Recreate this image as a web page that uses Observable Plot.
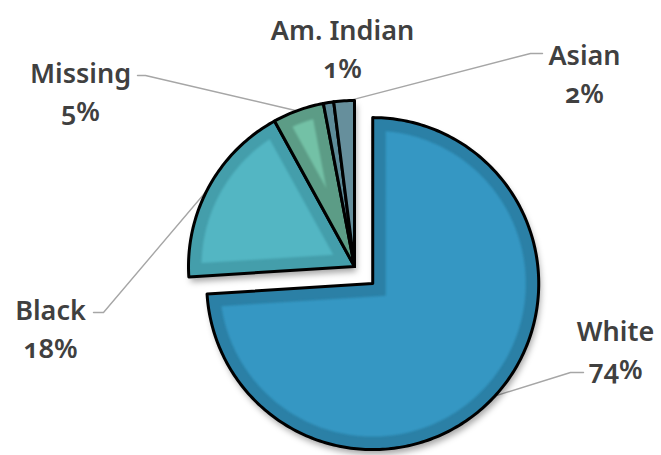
<!DOCTYPE html>
<html>
<head>
<meta charset="utf-8">
<script src="https://cdn.jsdelivr.net/npm/d3@7"></script>
<script src="https://cdn.jsdelivr.net/npm/@observablehq/plot@0.6"></script>
<style>
  html, body { margin: 0; padding: 0; background: #ffffff; }
  #chart { width: 661px; height: 455px; }
</style>
</head>
<body>
<div id="chart"></div>
<script>
// ---- data ----
const categories = ["White", "Black", "Missing", "Am. Indian", "Asian"];
const values = [74, 18, 5, 1, 2];
const pctLabels = ["74%", "18%", "5%", "1%", "2%"];

// ---- styles ----
const outerColors = ["#2B80A6", "#449EAB", "#5C9C86", "#5D8B98", "#668F9C"];
const innerColors = ["#3497C3", "#52B6C3", "#73C1A6", "#5D8B98", "#6C96A3"];

// ---- layout ----
const W = 661, H = 455;
const cx = 354, cy = 266, R = 166, band = 13;
const explode = {"White": 25};
const labelAt = {           // [center x, cap top y]
  "White": [615, 313],
  "Black": [50, 292],
  "Missing": [80, 55],
  "Am. Indian": [342, 12],
  "Asian": [584, 37]
};
const leaderAt = {          // elbow, end
  "White": [[570, 372], [583, 372]],
  "Black": [[103, 312], [93, 312]],
  "Missing": [[145, 75], [137, 75]],
  "Asian": [[530, 53], [542, 53]]
};

const pt = (c, rho, a) => [c[0] + rho * Math.sin(a), c[1] - rho * Math.cos(a)];
const arcs = d3.pie().sort(null)(values);

const outerPts = [], innerPts = [], leaderPts = [];
arcs.forEach((arc, i) => {
  const name = categories[i];
  const a0 = arc.startAngle, a1 = arc.endAngle, mid = (a0 + a1) / 2;
  const c = pt([cx, cy], explode[name] || 0, mid);
  const n = Math.max(2, Math.ceil((a1 - a0) / (Math.PI / 180)));
  outerPts.push({id: name, x: c[0], y: c[1], fill: outerColors[i]});
  for (let k = 0; k <= n; k++) {
    const p = pt(c, R, a0 + (a1 - a0) * k / n);
    outerPts.push({id: name, x: p[0], y: p[1], fill: outerColors[i]});
  }
  const th = a1 - a0;
  const off = band / Math.sin(th / 2);
  const rho = R - band;
  if (off < rho - 4) {
    const d = Math.asin(band / rho);
    const ci = pt(c, off, mid);
    innerPts.push({id: name, x: ci[0], y: ci[1], fill: innerColors[i]});
    const b0 = a0 + d, b1 = a1 - d;
    for (let k = 0; k <= n; k++) {
      const p = pt(c, rho, b0 + (b1 - b0) * k / n);
      innerPts.push({id: name, x: p[0], y: p[1], fill: innerColors[i]});
    }
  }
  if (leaderAt[name]) {
    const p = pt(c, R - 1, mid);
    leaderPts.push({id: name, x: p[0], y: p[1]});
    leaderAt[name].forEach(q => leaderPts.push({id: name, x: q[0], y: q[1]}));
  }
});

const labelRows = categories.map((name, i) => ({
  text: name + "\n" + pctLabels[i],
  x: labelAt[name][0],
  y: labelAt[name][1]
}));

const chart = Plot.plot({
  width: W,
  height: H,
  margin: 0,
  x: {domain: [0, W], range: [0, W], axis: null},
  y: {domain: [0, H], range: [0, H], axis: null},
  color: {type: "identity"},
  style: "font-family: 'Noto Sans', sans-serif; font-variant-numeric: oldstyle-nums; font-feature-settings: 'onum' 1; background: #ffffff; overflow: visible;",
  marks: [
    Plot.line(leaderPts, {x: "x", y: "y", z: "id", stroke: "#A6A6A6", strokeWidth: 1.4}),
    Plot.line(outerPts, {x: "x", y: "y", z: "id", fill: "#000000", stroke: "none", fillOpacity: 0.35, dx: 2, dy: 5, curve: "linear-closed"}),
    Plot.line(outerPts, {x: "x", y: "y", z: "id", fill: "fill", stroke: "#000000", strokeWidth: 3, strokeLinejoin: "round", curve: "linear-closed"}),
    Plot.line(innerPts, {x: "x", y: "y", z: "id", fill: "fill", stroke: "none", curve: "linear-closed"}),
    Plot.text(labelRows, {x: "x", y: "y", text: "text", fontSize: 27, fontWeight: 600, fill: "#404040", lineAnchor: "top", lineHeight: 1.41, textAnchor: "middle"})
  ]
});

const ns = "http://www.w3.org/2000/svg";
const defs = document.createElementNS(ns, "defs");
defs.innerHTML = '<filter id="sh" x="-20%" y="-20%" width="140%" height="140%"><feGaussianBlur stdDeviation="3"/></filter>' +
  '<filter id="soft" x="-10%" y="-10%" width="120%" height="120%"><feGaussianBlur stdDeviation="0.8"/></filter>';
chart.insertBefore(defs, chart.firstChild);
const lineGroups = chart.querySelectorAll('g[aria-label="line"]');
if (lineGroups[1]) lineGroups[1].setAttribute("filter", "url(#sh)");
if (lineGroups[3]) lineGroups[3].setAttribute("filter", "url(#soft)");

document.getElementById("chart").appendChild(chart);
</script>
</body>
</html>
